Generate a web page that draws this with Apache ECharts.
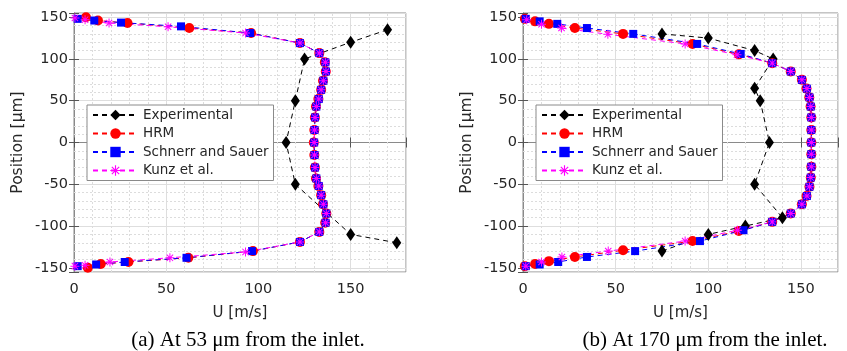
<!DOCTYPE html>
<html>
<head>
<meta charset="utf-8">
<script src="https://cdn.jsdelivr.net/npm/echarts@6/dist/echarts.min.js"></script>
<style>
html,body{margin:0;padding:0;background:#fff;}
#chart{width:847px;height:351px;}
</style>
</head>
<body>
<div id="chart"></div>
<script>
// ---------- data (U [m/s], Position [um]) ----------
const seriesNames = ['Experimental', 'HRM', 'Schnerr and Sauer', 'Kunz et al.'];
const captions = ['(a) At 53 μm from the inlet.', '(b) At 170 μm from the inlet.'];

// Panel (a)
const expA = [[170,135],[150,120],[125,100],[120,50],[115,0],[120,-50],[150,-110],[175,-120]];
const hrmA = [[6.5,150],[13,146],[29,143],[62.5,137],[96,131],[122.5,119],[133,107],[136,96],[136.5,85],[135,74],[134,63],[132.5,52],[131.2,43],[130.6,30],[130.3,15],[130,0],[130.3,-15],[130.6,-30],[131.2,-43],[132.5,-52],[134,-63],[135,-74],[136.8,-85],[136.2,-96],[133,-107],[122.5,-119],[97,-130],[62,-138],[29.5,-143],[14.5,-145.5],[7.5,-150]];
const schA = [[2,148],[11,146],[25.5,143.5],[58,139],[95.5,131],[122.5,119],[133,107],[136.3,96],[136.6,85],[135.2,74],[134,63],[132.7,52],[131.4,43],[130.7,30],[130.4,15],[130.2,0],[130.4,-15],[130.7,-30],[131.4,-43],[132.7,-52],[134,-63],[135.2,-74],[136.8,-85],[136.4,-96],[133,-107],[122.5,-119],[96.5,-130],[61,-138],[27.5,-143],[12,-146],[2,-148]];
const kunzA = [[0.5,149],[6,147],[19,143],[51,138.5],[93,131],[122.5,119],[133,107],[136.3,96],[136.6,85],[135.2,74],[134,63],[132.7,52],[131.4,43],[130.7,30],[130.4,15],[130.2,0],[130.4,-15],[130.7,-30],[131.4,-43],[132.7,-52],[134,-63],[135.2,-74],[136.8,-85],[136.4,-96],[133,-107],[122.5,-119],[93,-131],[52,-138],[19.5,-143],[6,-147],[0.5,-148]];

// Panel (b)
const expB = [[75,130],[100,125],[125,110],[135,100],[125,65],[128,50],[133,0],[125,-50],[140,-90],[120,-100],[100,-110],[75,-130]];
const hrmB = [[1,148],[6.5,145],[14,142],[28,137],[54,130],[91.5,118],[116.5,105.5],[134.5,95],[144.5,85],[150.5,75],[153,64.5],[154.5,54],[155.2,43],[155.6,30],[155.6,15],[155.6,0],[155.6,-14],[155.6,-29],[155.3,-42],[154.6,-53],[153,-64],[150.5,-74],[144.5,-85],[134.5,-95],[116.5,-106],[91.5,-118],[54,-129],[28,-137],[14,-142],[6.5,-145.5],[1,-148]];
const schB = [[1.5,148],[9,145],[18.5,142],[34.5,137],[59.5,130],[94,118],[117.5,106],[134.5,95],[144.5,85],[150.5,75],[153.2,64.5],[154.6,54],[155.3,43],[155.6,30],[155.6,15],[155.6,0],[155.6,-14],[155.6,-29],[155.3,-42],[154.6,-53],[153.2,-64],[150.5,-74],[144.5,-85],[134.5,-95],[119,-105],[95.5,-118],[60.5,-130],[34.5,-137],[19,-143],[9,-146],[1.5,-148]];
const kunzB = [[2,147],[10,141.5],[20.8,137],[45.8,129.5],[87.5,118],[115.5,105],[134.5,95],[144.5,85],[150.5,75],[153.2,64.5],[154.6,54],[155.3,43],[155.6,30],[155.6,15],[155.6,0],[155.6,-14],[155.6,-29],[155.3,-42],[154.6,-53],[153.2,-64],[150.5,-74],[144.5,-85],[134.5,-95],[115.7,-105],[87.5,-118],[46,-130],[21,-137],[10,-143],[1.5,-148]];

// axis ranges and minor grid values
const xMaxA = 180, xMaxB = 170, yMin = -155, yMax = 155;
const xMinorA = [10,20,30,40,60,70,80,90,110,120,130,140,160,170];
const xMinorB = [10,20,30,40,60,70,80,90,110,120,130,140,160];
const yMinor = [-140,-130,-120,-110,-90,-80,-70,-60,-40,-30,-20,-10,10,20,30,40,60,70,80,90,110,120,130,140];

// ---------- styling ----------
const FONT = 'DejaVu Sans';
const TXT = '#262626';
const BOX = '#8a8a8a';
const MAJOR = '#dedede';
const MINOR = '#dcdcdc';
const STAR = 'path://M0 8.9H20V11.1H0Z M8.9 0H11.1V20H8.9Z M3.71 2.15L17.85 16.29L16.29 17.85L2.15 3.71Z M17.85 3.71L3.71 17.85L2.15 16.29L16.29 2.15Z';

const styles = {
  'Experimental': {color:'#000000', symbol:'diamond', symbolSize:[9,13]},
  'HRM': {color:'#ff0000', symbol:'circle', symbolSize:10},
  'Schnerr and Sauer': {color:'#0000ff', symbol:'rect', symbolSize:8},
  'Kunz et al.': {color:'#ff00ff', symbol:STAR, symbolSize:9}
};

const grids = [
  {left:74, top:13, width:332, height:259},
  {left:523, top:13, width:315, height:259}
];

function yFmt(v){ return (Math.abs(v) % 50 === 0) ? (v < 0 ? '-' + Math.abs(v) : String(v)) : ''; }
function xFmt(v){ return (v % 50 === 0) ? String(v) : ''; }

const xAxes = [], yAxes = [];
[xMaxA, xMaxB].forEach((xm, g) => {
  xAxes.push({
    type:'value', gridIndex:g, min:0, max:xm, interval:50, position:'bottom',
    name:'U [m/s]', nameLocation:'middle', nameGap:34,
    nameTextStyle:{fontFamily:FONT, fontSize:15, color:TXT},
    axisLine:{show:true, lineStyle:{color:BOX, width:1}},
    axisTick:{show:true, inside:true, length:5, lineStyle:{color:'#555'}},
    axisLabel:{margin:10, fontFamily:FONT, fontSize:14.5, color:TXT, formatter:xFmt},
    splitLine:{show:true, lineStyle:{color:MAJOR, width:1}}
  });
  xAxes.push({
    type:'value', gridIndex:g, min:0, max:xm, interval:50, position:'top',
    axisLine:{show:true, lineStyle:{color:BOX, width:1}},
    axisTick:{show:true, inside:true, length:5, lineStyle:{color:'#555'}},
    axisLabel:{show:false}, splitLine:{show:false}
  });
  yAxes.push({
    type:'value', gridIndex:g, min:yMin, max:yMax, position:'left',
    name:'Position [μm]', nameLocation:'middle', nameGap:48, nameRotate:90,
    nameTextStyle:{fontFamily:FONT, fontSize:15.5, color:TXT},
    axisLine:{show:true, lineStyle:{color:BOX, width:1}},
    axisTick:{show:true, inside:true, length:5, lineStyle:{color:'#555'}},
    axisLabel:{margin:6, fontFamily:FONT, fontSize:14.5, color:TXT, formatter:yFmt},
    splitLine:{show:true, lineStyle:{color:MAJOR, width:1}}
  });
  yAxes.push({
    type:'value', gridIndex:g, min:yMin, max:yMax, position:'right',
    axisLine:{show:true, lineStyle:{color:BOX, width:1}},
    axisTick:{show:true, inside:true, length:5, lineStyle:{color:'#555'}},
    axisLabel:{show:false}, splitLine:{show:false}
  });
});

const panelData = [
  {'Experimental':expA, 'HRM':hrmA, 'Schnerr and Sauer':schA, 'Kunz et al.':kunzA},
  {'Experimental':expB, 'HRM':hrmB, 'Schnerr and Sauer':schB, 'Kunz et al.':kunzB}
];
const minorX = [xMinorA, xMinorB];

const series = [];
[0,1].forEach(g => {
  // minor grid lines through the axis scales
  series.push({
    type:'line', xAxisIndex:g*2, yAxisIndex:g*2, data:[], z:1, silent:true,
    markLine:{
      silent:true, symbol:'none', animation:false, z:1,
      label:{show:false},
      emphasis:{disabled:true},
      lineStyle:{color:MINOR, type:[2,2], width:1},
      data: minorX[g].map(v => ({xAxis:v})).concat(yMinor.map(v => ({yAxis:v})))
    }
  });
  seriesNames.forEach(name => {
    const st = styles[name];
    series.push({
      name:name, type:'line', xAxisIndex:g*2, yAxisIndex:g*2,
      data:panelData[g][name],
      symbol:st.symbol, symbolSize:st.symbolSize, showAllSymbol:true,
      lineStyle:{color:st.color, width:1, type:[5,4]},
      itemStyle:{color:st.color, borderColor:st.color, borderWidth:0, opacity:1},
      emphasis:{disabled:true},
      z:3, animation:false
    });
  });
});

const legends = [87, 536].map(x => ({
  data:seriesNames, orient:'vertical', left:x, top:105,
  itemWidth:45, itemHeight:13, itemGap:4.5,
  padding:[3,5,3,5],
  backgroundColor:'#ffffff', borderColor:BOX, borderWidth:1, borderRadius:0,
  textStyle:{fontFamily:FONT, fontSize:13.5, color:TXT, lineHeight:14},
  selectedMode:false
}));

const option = {
  animation:false,
  backgroundColor:'#ffffff',
  grid: grids.map(gr => Object.assign({show:true, borderColor:BOX, borderWidth:1, backgroundColor:'#ffffff', containLabel:false}, gr)),
  xAxis: xAxes,
  yAxis: yAxes,
  legend: legends,
  series: series,
  graphic: [
    {type:'text', x:248, y:340, style:{text:captions[0], fill:'#000', font:'21px "Liberation Serif"', textAlign:'center', textVerticalAlign:'middle'}},
    {type:'text', x:705, y:340, style:{text:captions[1], fill:'#000', font:'21px "Liberation Serif"', textAlign:'center', textVerticalAlign:'middle'}}
  ]
};

const chart = echarts.init(document.getElementById('chart'), null, {renderer:'canvas'});
chart.setOption(option);
</script>
</body>
</html>
